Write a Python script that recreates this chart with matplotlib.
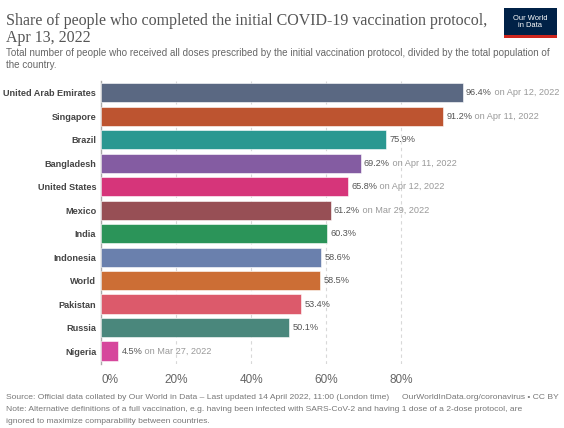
import matplotlib
matplotlib.use('Agg')
import matplotlib.pyplot as plt
from matplotlib.patches import Rectangle

countries = ['United Arab Emirates', 'Singapore', 'Brazil', 'Bangladesh', 'United States',
             'Mexico', 'India', 'Indonesia', 'World', 'Pakistan', 'Russia', 'Nigeria']
values = [96.4, 91.2, 75.9, 69.2, 65.8, 61.2, 60.3, 58.6, 58.5, 53.4, 50.1, 4.5]
dates = ['on Apr 12, 2022', 'on Apr 11, 2022', '', 'on Apr 11, 2022', 'on Apr 12, 2022',
         'on Mar 29, 2022', '', '', '', '', '', 'on Mar 27, 2022']
colors = ['#5a6882', '#bd5430', '#2a9891', '#845ca2', '#d6357a', '#974f55',
          '#2b9459', '#6a80ad', '#cc6e35', '#dc5a6b', '#4a877c', '#d6479c']
ticks = [0, 20, 40, 60, 80]

W, H = 564, 428
plt.rcParams['font.family'] = ['Liberation Sans', 'DejaVu Sans']
fig = plt.figure(figsize=(W / 100, H / 100), dpi=100)
fig.patch.set_facecolor('white')

# axes in pixel layout
ax_left, ax_right, ax_top, ax_bottom = 101, 476, 81, 364
ax = fig.add_axes([ax_left / W, (H - ax_bottom) / H, (ax_right - ax_left) / W, (ax_bottom - ax_top) / H])
ax.set_xlim(0, 100)
ax.set_ylim(11.55, -0.5)

ypos = list(range(len(countries)))
ax.barh(ypos, values, height=0.82, color=colors, edgecolor='white', linewidth=0.4, zorder=3)

for x in ticks[1:]:
    ax.axvline(x, color='#d8d8d8', linestyle=(0, (3, 3)), linewidth=0.8, zorder=1)

for spine in ['top', 'right', 'bottom']:
    ax.spines[spine].set_visible(False)
ax.spines['left'].set_color('#aaaaaa')
ax.spines['left'].set_linewidth(1.0)

ax.set_xticks(ticks)
ax.set_xticklabels([f'{t}%' for t in ticks], color='#666666', fontsize=8.5)
ax.get_xticklabels()[0].set_ha('left')
ax.tick_params(axis='x', length=0, pad=7)
ax.set_yticks(ypos)
ax.set_yticklabels(countries, fontweight='bold', color='#444444', fontsize=6.6)
ax.tick_params(axis='y', length=0, pad=3.5)

for y, v, d in zip(ypos, values, dates):
    t = ax.annotate(f'{v:.1f}%', xy=(v, y), xytext=(2.5, 0), textcoords='offset points',
                    va='center', ha='left', fontsize=6.6, color='#555555')
    if d:
        ax.annotate(' ' + d, xycoords=t, xy=(1, 0.5), va='center', ha='left',
                    fontsize=6.6, color='#999999')

# title and subtitle
fig.text(6 / W, 1 - 25 / H, 'Share of people who completed the initial COVID-19 vaccination protocol,',
         family='Liberation Serif', fontsize=11.5, color='#555555', va='baseline')
fig.text(6 / W, 1 - 42 / H, 'Apr 13, 2022', family='Liberation Serif', fontsize=11.5,
         color='#555555', va='baseline')
fig.text(6 / W, 1 - 56 / H,
         'Total number of people who received all doses prescribed by the initial vaccination protocol, divided by the total population of',
         fontsize=7.1, color='#666666', va='baseline')
fig.text(6 / W, 1 - 68 / H, 'the country.', fontsize=7.1, color='#666666', va='baseline')

# logo
fig.patches.append(Rectangle((504 / W, 1 - 38 / H), 53 / W, 30 / H, transform=fig.transFigure,
                             facecolor='#002147', edgecolor='none'))
fig.patches.append(Rectangle((504 / W, 1 - 38 / H), 53 / W, 3 / H, transform=fig.transFigure,
                             facecolor='#ce261e', edgecolor='none'))
fig.text(530.5 / W, 1 - 22 / H, 'Our World\nin Data', ha='center', va='center', fontsize=5.4,
         color='white', linespacing=1.05)

# footer
fig.text(6 / W, 1 - 399 / H,
         'Source: Official data collated by Our World in Data \u2013 Last updated 14 April 2022, 11:00 (London time)',
         fontsize=6.1, color='#777777', va='baseline')
fig.text(559 / W, 1 - 399 / H, 'OurWorldInData.org/coronavirus \u2022 CC BY',
         fontsize=6.1, color='#777777', va='baseline', ha='right')
fig.text(6 / W, 1 - 411 / H,
         'Note: Alternative definitions of a full vaccination, e.g. having been infected with SARS-CoV-2 and having 1 dose of a 2-dose protocol, are',
         fontsize=6.1, color='#777777', va='baseline')
fig.text(6 / W, 1 - 423 / H, 'ignored to maximize comparability between countries.',
         fontsize=6.1, color='#777777', va='baseline')

fig.savefig('out.png', dpi=100, facecolor='white')
